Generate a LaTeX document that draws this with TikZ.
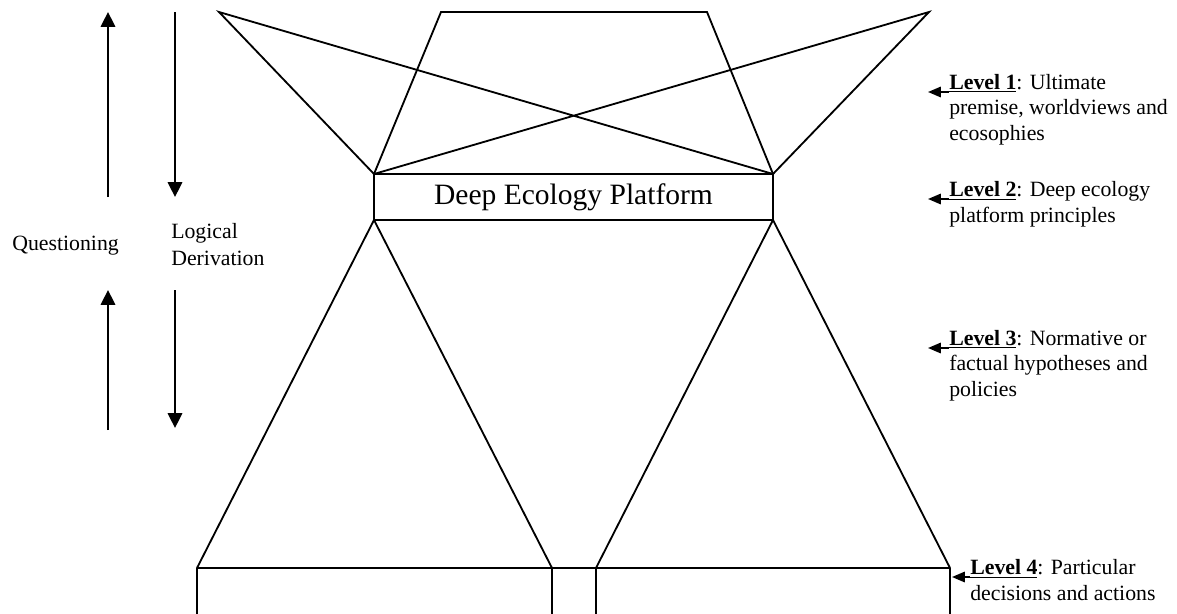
\documentclass[tikz,border=0pt]{standalone}
\usepackage{fontspec}
\setmainfont{Liberation Serif}
\usetikzlibrary{arrows.meta}

\tikzset{
  edge/.style={line width=1.3pt,line join=miter},
  bigarrow/.style={line width=1.3pt,-{Triangle[width=3.6mm,length=3.7mm]}},
  lvlarrow/.style={line width=1.3pt,-{Triangle[width=2.6mm,length=3.2mm]}},
  lvltext/.style={anchor=base west,inner sep=0pt,align=left,
    font=\fontsize{15.5}{18}\selectfont},
  sidetext/.style={anchor=base west,inner sep=0pt,align=left,
    font=\fontsize{15.5}{19}\selectfont},
  platform/.style={draw,line width=1.3pt,inner sep=0pt,
    minimum width=9.975cm,minimum height=1.15cm,
    font=\fontsize{21}{24}\selectfont}
}

\begin{document}
\begin{tikzpicture}[x=0.025cm,y=-0.025cm]
  \useasboundingbox (0,0) rectangle (1177,613);
  \clip (0,0) rectangle (1177,613);

  % Corners of the figure
  \coordinate (xl) at (219,12);
  \coordinate (xr) at (929,12);
  \coordinate (trapl) at (441,12);
  \coordinate (trapr) at (707,12);
  \coordinate (ptl) at (374,174);
  \coordinate (ptr) at (773,174);
  \coordinate (pbl) at (374,220);
  \coordinate (pbr) at (773,220);
  \coordinate (bl) at (197,568);
  \coordinate (bml) at (552,568);
  \coordinate (bmr) at (596,568);
  \coordinate (br) at (950,568);

  % Platform box
  \node [platform] (platform) at (573.5,197) {Deep Ecology Platform};

  % Drawing the crossed wings
  \draw [edge] (ptl) -- (xl) -- (ptr) -- (xr) -- cycle;

  % Drawing the trapezoid
  \draw [edge] (ptl) -- (trapl) -- (trapr) -- (ptr);

  % Drawing the two lower triangles
  \draw [edge] (bl) -- (pbl) -- (bml);
  \draw [edge] (bmr) -- (pbr) -- (br);

  % Drawing the bottom boxes
  \draw [edge] (bl) -- (br);
  \foreach \c in {bl,bml,bmr,br}
    \draw [edge] (\c) -- ++(0,60);

  % Questioning arrows
  \node [sidetext] (quest) at (12,250) {Questioning};
  \coordinate (qup) at (108,12);
  \coordinate (qlow) at (108,290);
  \draw [bigarrow] (108,197) -- (qup);
  \draw [bigarrow] (108,430) -- (qlow);

  % Logical derivation arrows (base anchor sits on the last line)
  \node [sidetext] (logic) at (171,265) {Logical\\Derivation};
  \coordinate (dup) at (175,197);
  \coordinate (dlow) at (175,428);
  \draw [bigarrow] (175,12) -- (dup);
  \draw [bigarrow] (175,290) -- (dlow);

  % Level labels (base anchor sits on the last line)
  \node [lvltext] (lvlone) at (949,140)
    {\underline{\textbf{Level 1}}: Ultimate\\premise, worldviews and\\ecosophies};
  \node [lvltext] (lvltwo) at (949,222)
    {\underline{\textbf{Level 2}}: Deep ecology\\platform principles};
  \node [lvltext] (lvlthree) at (949,396)
    {\underline{\textbf{Level 3}}: Normative or\\factual hypotheses and\\policies};
  \node [lvltext] (lvlfour) at (970,600)
    {\underline{\textbf{Level 4}}: Particular\\decisions and actions};

  % Level arrows
  \coordinate (tipone) at (928,92);
  \coordinate (tiptwo) at (928,199);
  \coordinate (tipthree) at (928,348);
  \coordinate (tipfour) at (952,577);
  \draw [lvlarrow] (lvlone.west |- tipone) -- (tipone);
  \draw [lvlarrow] (lvltwo.west |- tiptwo) -- (tiptwo);
  \draw [lvlarrow] (lvlthree.west |- tipthree) -- (tipthree);
  \draw [lvlarrow] (lvlfour.west |- tipfour) -- (tipfour);
\end{tikzpicture}
\end{document}
